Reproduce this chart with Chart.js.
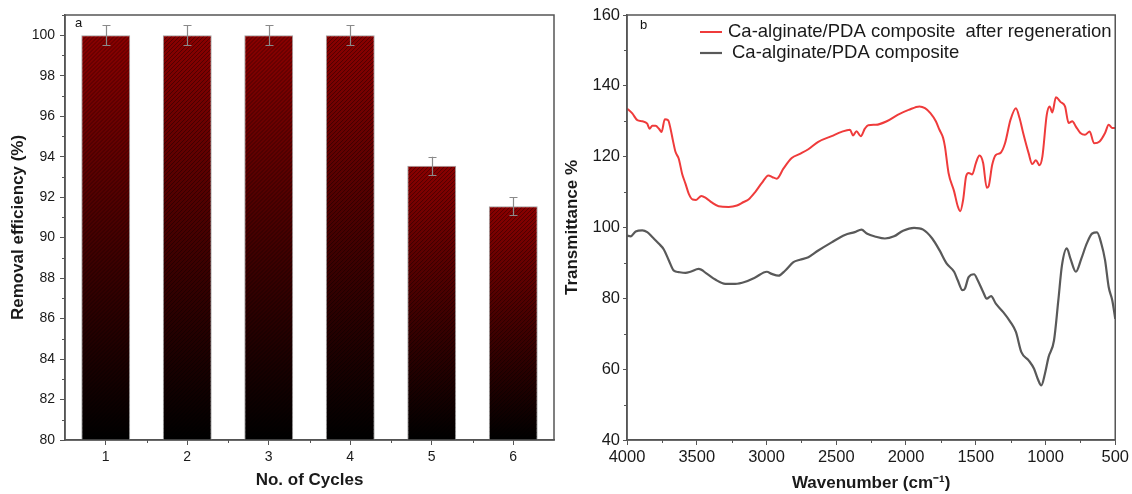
<!DOCTYPE html>
<html>
<head>
<meta charset="utf-8">
<title>Reusability and FTIR of Ca-alginate/PDA composite</title>
<script src="https://cdn.jsdelivr.net/npm/chart.js@4.4.1/dist/chart.umd.min.js"></script>
<style>
  html, body { margin: 0; padding: 0; background: #ffffff; }
  #wrap { position: relative; width: 1132px; height: 494px; overflow: hidden; }
  #wrap canvas { position: absolute; top: 0; }
  #cycles { left: 0; }
  #ftir { left: 560px; }
</style>
</head>
<body>
<div id="wrap">
  <canvas id="cycles" width="560" height="494"></canvas>
  <canvas id="ftir" width="572" height="494"></canvas>
</div>
<script>
// ---- Panel a: removal efficiency over regeneration cycles ----
const cycleLabels = ['1', '2', '3', '4', '5', '6'];
const removalEfficiency = [100, 100, 100, 100, 93.55, 91.55];
const removalError = [0.5, 0.5, 0.5, 0.5, 0.45, 0.45];

// ---- Panel b: FTIR spectra ----
const regenLabel = 'Ca-alginate/PDA composite  after regeneration';
const regenWavenumber = [4000, 3962, 3926, 3890, 3855, 3838, 3819, 3795, 3771, 3752, 3729, 3705, 3688, 3671, 3652, 3629, 3605, 3581, 3557, 3529, 3505, 3467, 3433, 3390, 3343, 3271, 3212, 3164, 3129, 3081, 3033, 2986, 2957, 2926, 2879, 2819, 2760, 2700, 2629, 2533, 2462, 2402, 2379, 2355, 2324, 2295, 2271, 2216, 2138, 2060, 1981, 1903, 1864, 1825, 1786, 1760, 1734, 1721, 1695, 1655, 1629, 1611, 1590, 1569, 1551, 1525, 1499, 1473, 1447, 1421, 1408, 1382, 1356, 1324, 1290, 1251, 1212, 1186, 1160, 1121, 1095, 1069, 1043, 1022, 991, 970, 951, 925, 891, 860, 834, 808, 782, 750, 717, 683, 652, 612, 573, 547, 521, 500];
const regenTransmittance = [133.6, 132.2, 130.3, 130.0, 129.3, 127.9, 128.7, 128.7, 127.9, 127.0, 130.6, 130.3, 127.9, 124.6, 121.3, 119.4, 115.2, 112.4, 109.5, 107.9, 107.8, 108.9, 108.3, 107.0, 106.0, 105.8, 106.2, 107.2, 107.9, 110.0, 112.6, 114.7, 114.2, 113.8, 116.6, 119.6, 120.8, 122.1, 124.2, 125.8, 127.0, 127.6, 126.0, 127.2, 125.8, 127.9, 128.9, 129.0, 130.0, 131.8, 133.2, 134.2, 133.7, 132.3, 130.0, 127.6, 125.3, 122.9, 115.4, 110.2, 106.0, 104.6, 107.9, 114.5, 115.4, 115.0, 118.2, 120.3, 118.2, 111.2, 111.6, 117.7, 120.5, 121.0, 123.8, 130.4, 133.7, 130.9, 126.7, 121.0, 117.9, 119.0, 117.6, 120.1, 131.8, 134.2, 132.5, 136.8, 135.4, 134.2, 129.5, 130.0, 128.5, 126.7, 126.2, 127.1, 123.8, 124.3, 126.7, 129.0, 128.1, 128.1];

const compositeLabel = 'Ca-alginate/PDA composite';
const compositeWavenumber = [4000, 3974, 3938, 3890, 3855, 3819, 3771, 3736, 3700, 3664, 3629, 3581, 3545, 3486, 3426, 3367, 3295, 3224, 3152, 3081, 2998, 2962, 2914, 2867, 2807, 2760, 2700, 2629, 2533, 2438, 2367, 2319, 2281, 2216, 2151, 2086, 2021, 1942, 1877, 1812, 1760, 1708, 1655, 1629, 1595, 1577, 1551, 1512, 1486, 1447, 1421, 1390, 1356, 1303, 1251, 1212, 1173, 1121, 1082, 1056, 1030, 1004, 978, 939, 908, 882, 847, 821, 782, 743, 704, 665, 631, 600, 573, 547, 521, 500];
const compositeTransmittance = [97.7, 97.5, 98.9, 99.2, 98.7, 97.3, 95.4, 93.8, 90.7, 87.8, 87.4, 87.2, 87.5, 88.3, 86.9, 85.3, 84.1, 84.1, 84.7, 85.9, 87.5, 86.9, 86.4, 87.8, 90.2, 90.9, 91.6, 93.5, 95.8, 97.9, 98.7, 99.4, 98.3, 97.4, 96.9, 97.5, 99.1, 99.9, 99.4, 96.9, 93.6, 89.8, 87.5, 85.1, 82.3, 82.8, 86.0, 86.8, 85.1, 81.8, 79.9, 80.6, 78.5, 76.1, 73.3, 70.5, 64.8, 62.5, 60.1, 57.3, 55.4, 58.7, 63.4, 68.1, 79.4, 89.3, 94.1, 91.2, 87.5, 91.2, 95.5, 98.3, 98.6, 95.5, 90.8, 83.2, 79.4, 74.2];

const FONT = '"Liberation Sans", Arial, Helvetica, sans-serif';
Chart.defaults.font.family = FONT;
Chart.defaults.color = '#1a1a1a';
Chart.defaults.animation = false;

const AXIS_COLOR = '#555555';

// Box frame, minor ticks and the panel letter
const panelDecor = {
  id: 'panelDecor',
  afterDraw(chart, args, o) {
    const { ctx, chartArea: a } = chart;
    const xs = chart.scales.x, ys = chart.scales.y;
    ctx.save();
    ctx.strokeStyle = AXIS_COLOR;
    ctx.lineWidth = 1;
    ctx.beginPath();
    // minor y ticks
    if (o.minorYStep) {
      for (let v = ys.min; v <= ys.max + 1e-9; v += o.minorYStep) {
        const r = v / o.majorYStep;
        if (Math.abs(r - Math.round(r)) < 1e-6) continue;
        const p = Math.round(ys.getPixelForValue(v)) + 0.5;
        ctx.moveTo(a.left - o.minorLen, p);
        ctx.lineTo(a.left, p);
      }
    }
    // minor x ticks
    if (o.minorXStep) {
      for (let v = xs.min; v <= xs.max + 1e-9; v += o.minorXStep) {
        const r = v / o.majorXStep;
        if (Math.abs(r - Math.round(r)) < 1e-6) continue;
        const p = Math.round(xs.getPixelForValue(v)) + 0.5;
        ctx.moveTo(p, a.bottom);
        ctx.lineTo(p, a.bottom + o.minorLen);
      }
    }
    if (o.categoryMinor) {
      const n = xs.ticks.length;
      for (let i = 0; i < n - 1; i++) {
        const p = Math.round((xs.getPixelForTick(i) + xs.getPixelForTick(i + 1)) / 2) + 0.5;
        ctx.moveTo(p, a.bottom);
        ctx.lineTo(p, a.bottom + o.minorLen);
      }
    }
    ctx.stroke();
    // frame
    ctx.lineWidth = o.frameWidth;
    ctx.strokeStyle = o.frameColor;
    ctx.strokeRect(a.left, a.top, a.right - a.left, a.bottom - a.top);
    // panel letter
    ctx.fillStyle = '#111111';
    ctx.font = '13px ' + FONT;
    ctx.textBaseline = 'middle';
    ctx.textAlign = 'left';
    ctx.fillText(o.letter, a.left + o.letterDx, a.top + o.letterDy);
    ctx.restore();
  }
};

// Diagonal hatching over the bars, then the error bars
const barExtras = {
  id: 'barExtras',
  afterDatasetsDraw(chart, args, o) {
    const { ctx, chartArea } = chart;
    const ys = chart.scales.y;
    const meta = chart.getDatasetMeta(0);
    const values = chart.data.datasets[0].data;
    ctx.save();
    meta.data.forEach((bar, i) => {
      const { x, y, base, width } = bar.getProps(['x', 'y', 'base', 'width'], true);
      const x0 = x - width / 2 + 1, x1 = x + width / 2 - 1;
      const top = y + 1, bottom = Math.min(base, chartArea.bottom) - 1;
      const h = bottom - top;
      ctx.save();
      ctx.beginPath();
      ctx.rect(x0, top, x1 - x0, h);
      ctx.clip();
      ctx.strokeStyle = o.hatchColor;
      ctx.lineWidth = o.hatchWidth;
      ctx.beginPath();
      for (let k = -h; k < (x1 - x0) + o.hatchGap; k += o.hatchGap) {
        ctx.moveTo(x0 + k, bottom);
        ctx.lineTo(x0 + k + h, top);
      }
      ctx.stroke();
      ctx.restore();

      // error bar
      const err = o.errors[i];
      const hi = ys.getPixelForValue(values[i] + err);
      const lo = ys.getPixelForValue(values[i] - err);
      const cx = Math.round(x) + 0.5;
      ctx.strokeStyle = o.errorColor;
      ctx.lineWidth = 1.2;
      ctx.beginPath();
      ctx.moveTo(cx, hi); ctx.lineTo(cx, lo);
      ctx.moveTo(cx - o.capHalf, Math.round(hi) + 0.5); ctx.lineTo(cx + o.capHalf, Math.round(hi) + 0.5);
      ctx.moveTo(cx - o.capHalf, Math.round(lo) + 0.5); ctx.lineTo(cx + o.capHalf, Math.round(lo) + 0.5);
      ctx.stroke();
    });
    ctx.restore();
  }
};

// Legend drawn inside the plot area, line sample + label per series
const lineLegend = {
  id: 'lineLegend',
  afterDraw(chart, args, o) {
    const { ctx } = chart;
    ctx.save();
    ctx.font = o.font;
    ctx.textBaseline = 'middle';
    ctx.textAlign = 'left';
    chart.data.datasets.forEach((ds, i) => {
      const y = o.top + i * o.rowGap;
      ctx.strokeStyle = ds.borderColor;
      ctx.lineWidth = ds.borderWidth;
      ctx.beginPath();
      ctx.moveTo(o.left, y);
      ctx.lineTo(o.left + o.sampleLen, y);
      ctx.stroke();
      ctx.fillStyle = '#1a1a1a';
      ctx.fillText(ds.label, o.left + o.sampleLen + o.textGap[i], y);
    });
    ctx.restore();
  }
};

// Per-bar vertical gradient: dark red at the bar top fading to black at the base
function barGradient(context) {
  const chart = context.chart;
  if (!chart.chartArea) return '#5a0000';
  const ys = chart.scales.y;
  const top = ys.getPixelForValue(context.raw);
  const bottom = chart.chartArea.bottom;
  const g = chart.ctx.createLinearGradient(0, top, 0, bottom);
  g.addColorStop(0, '#8a0000');
  g.addColorStop(1, '#000000');
  return g;
}

new Chart(document.getElementById('cycles'), {
  type: 'bar',
  data: {
    labels: cycleLabels,
    datasets: [{
      data: removalEfficiency,
      backgroundColor: barGradient,
      borderColor: '#a3a3a3',
      borderWidth: 1,
      borderSkipped: false,
      categoryPercentage: 1,
      barPercentage: 0.6
    }]
  },
  options: {
    responsive: false,
    layout: { padding: { top: 15, right: 6, left: 0, bottom: 0 } },
    plugins: {
      legend: { display: false },
      tooltip: { enabled: false },
      panelDecor: {
        letter: 'a', letterDx: 10, letterDy: 8,
        frameColor: AXIS_COLOR, frameWidth: 1.5,
        minorYStep: 1, majorYStep: 2, minorLen: 3,
        categoryMinor: true
      },
      barExtras: {
        errors: removalError,
        hatchColor: 'rgba(0,0,0,0.38)', hatchWidth: 1, hatchGap: 4,
        errorColor: '#8a8a8a', capHalf: 4
      }
    },
    scales: {
      x: {
        offset: true,
        grid: { offset: false, drawOnChartArea: false, drawTicks: true, tickLength: 5, tickColor: AXIS_COLOR, tickWidth: 1 },
        border: { display: true, color: AXIS_COLOR, width: 1.5 },
        ticks: { font: { size: 14 }, color: '#1a1a1a', padding: 4 },
        title: { display: true, text: 'No. of Cycles', font: { size: 17, weight: 'bold' }, color: '#1a1a1a', padding: { top: 0, bottom: 3 } },
        afterFit(s) { s.height = 54; }
      },
      y: {
        min: 80, max: 101,
        grid: { drawOnChartArea: false, drawTicks: true, tickLength: 5, tickColor: AXIS_COLOR, tickWidth: 1 },
        border: { display: true, color: AXIS_COLOR, width: 1.5 },
        ticks: { stepSize: 2, includeBounds: false, font: { size: 14 }, color: '#1a1a1a', padding: 5 },
        title: { display: true, text: 'Removal efficiency (%)', font: { size: 17, weight: 'bold' }, color: '#1a1a1a', padding: { top: 8, bottom: 0 } },
        afterFit(s) { s.width = 65; }
      }
    }
  },
  plugins: [barExtras, panelDecor]
});

new Chart(document.getElementById('ftir'), {
  type: 'line',
  data: {
    datasets: [{
      label: regenLabel,
      data: regenWavenumber.map((w, i) => ({ x: w, y: regenTransmittance[i] })),
      borderColor: '#ef3b3b',
      borderWidth: 2,
      pointRadius: 0,
      cubicInterpolationMode: 'monotone',
      fill: false
    }, {
      label: compositeLabel,
      data: compositeWavenumber.map((w, i) => ({ x: w, y: compositeTransmittance[i] })),
      borderColor: '#595959',
      borderWidth: 2.2,
      pointRadius: 0,
      cubicInterpolationMode: 'monotone',
      fill: false
    }]
  },
  options: {
    responsive: false,
    layout: { padding: { top: 15, right: 14, left: 0, bottom: 0 } },
    plugins: {
      legend: { display: false },
      tooltip: { enabled: false },
      panelDecor: {
        letter: 'b', letterDx: 13, letterDy: 10,
        frameColor: AXIS_COLOR, frameWidth: 1.5,
        minorYStep: 10, majorYStep: 20, minorXStep: 250, majorXStep: 500, minorLen: 3
      },
      lineLegend: {
        left: 140, top: 32, rowGap: 21, sampleLen: 22, textGap: [6, 10],
        font: '18.5px ' + FONT
      }
    },
    scales: {
      x: {
        type: 'linear',
        reverse: true,
        min: 500, max: 4000,
        grid: { drawOnChartArea: false, drawTicks: true, tickLength: 5, tickColor: AXIS_COLOR, tickWidth: 1 },
        border: { display: true, color: AXIS_COLOR, width: 1.5 },
        ticks: { stepSize: 500, font: { size: 16.5 }, color: '#1a1a1a', padding: 3, maxRotation: 0, callback: v => String(v) },
        title: { display: true, text: 'Wavenumber (cm\u207B\u00B9)', font: { size: 17, weight: 'bold' }, color: '#1a1a1a', padding: { top: 0, bottom: 0 } },
        afterFit(s) { s.height = 54; }
      },
      y: {
        min: 40, max: 160,
        grid: { drawOnChartArea: false, drawTicks: true, tickLength: 4, tickColor: AXIS_COLOR, tickWidth: 1 },
        border: { display: true, color: AXIS_COLOR, width: 1.5 },
        ticks: { stepSize: 20, font: { size: 16.5 }, color: '#1a1a1a', padding: 3, callback: v => String(v) },
        title: { display: true, text: 'Transmittance %', font: { size: 17, weight: 'bold' }, color: '#1a1a1a', padding: { top: 2, bottom: 0 } },
        afterFit(s) { s.width = 67; }
      }
    }
  },
  plugins: [panelDecor, lineLegend]
});
</script>
</body>
</html>
